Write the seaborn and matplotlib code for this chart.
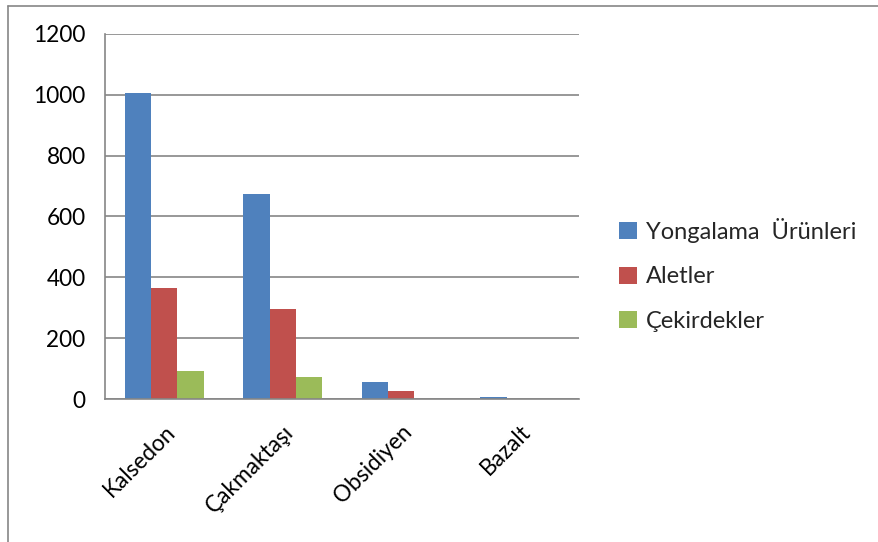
import matplotlib
matplotlib.use("Agg")
import matplotlib.pyplot as plt
import seaborn as sns
import pandas as pd
from matplotlib.lines import Line2D

categories = ["Kalsedon", "Çakmaktaşı", "Obsidiyen", "Bazalt"]
series_names = ["Yongalama  Ürünleri", "Aletler", "Çekirdekler"]
yongalama = [1005, 675, 57, 6]
aletler = [366, 296, 25, 1]
cekirdekler = [93, 72, 0, 0]
colors = ["#4F81BD", "#C0504D", "#9BBB59"]
y_ticks = [0, 200, 400, 600, 800, 1000, 1200]

rows = []
for name, vals in zip(series_names, [yongalama, aletler, cekirdekler]):
    for c, v in zip(categories, vals):
        rows.append({"cat": c, "series": name, "value": v})
df = pd.DataFrame(rows)

sns.set_style("white")
plt.rcParams['font.family'] = ['Lato', 'DejaVu Sans']
FS = 16.3

fig = plt.figure(figsize=(8.79, 5.42), dpi=100)
ax = fig.add_axes([105/879, 1-399/542, (579-105)/879, (399-34)/542])

sns.barplot(data=df, x="cat", y="value", hue="series", order=categories,
            hue_order=series_names, palette=colors, width=0.667, ax=ax,
            saturation=1, edgecolor="none", legend=True)

ax.set_xlim(-0.5, len(categories) - 0.5)
ax.set_ylim(0, 1200)
ax.set_yticks(y_ticks)
ax.set_yticklabels([str(t) for t in y_ticks], fontsize=FS, color="black")
ax.yaxis.grid(True, color="#868686", linewidth=1.2)
ax.set_axisbelow(True)
ax.set_xlabel("")
ax.set_ylabel("")

ax.set_xticks(range(len(categories)))
ax.set_xticklabels(categories, rotation=45, ha="right", rotation_mode="anchor",
                   fontsize=FS, color="black")
ax.tick_params(axis="x", which="major", length=0, pad=16)
ax.set_xticks([i - 0.5 for i in range(len(categories) + 1)], minor=True)
ax.tick_params(axis="x", which="minor", length=6, color="#868686", width=1.2, direction="out")
ax.tick_params(axis="y", length=6, color="#868686", width=1.2, direction="out", pad=8)

for s in ["top", "right"]:
    ax.spines[s].set_visible(False)
for s in ["left", "bottom"]:
    ax.spines[s].set_color("#868686")
    ax.spines[s].set_linewidth(1.2)

leg = ax.legend(loc="center left", bbox_to_anchor=(1.04, 0.34), frameon=False,
                fontsize=17, handlelength=0.75, handleheight=0.75,
                labelspacing=1.0, handletextpad=0.4)

# outer chart border (only top and left visible in the image)
fig.add_artist(Line2D([8/879, 8/879], [0, 1-5.5/542], transform=fig.transFigure,
                      color="#868686", linewidth=1.2))
fig.add_artist(Line2D([8/879, 1], [1-5.5/542, 1-5.5/542], transform=fig.transFigure,
                      color="#868686", linewidth=1.2))

fig.savefig("out.png", dpi=100)
